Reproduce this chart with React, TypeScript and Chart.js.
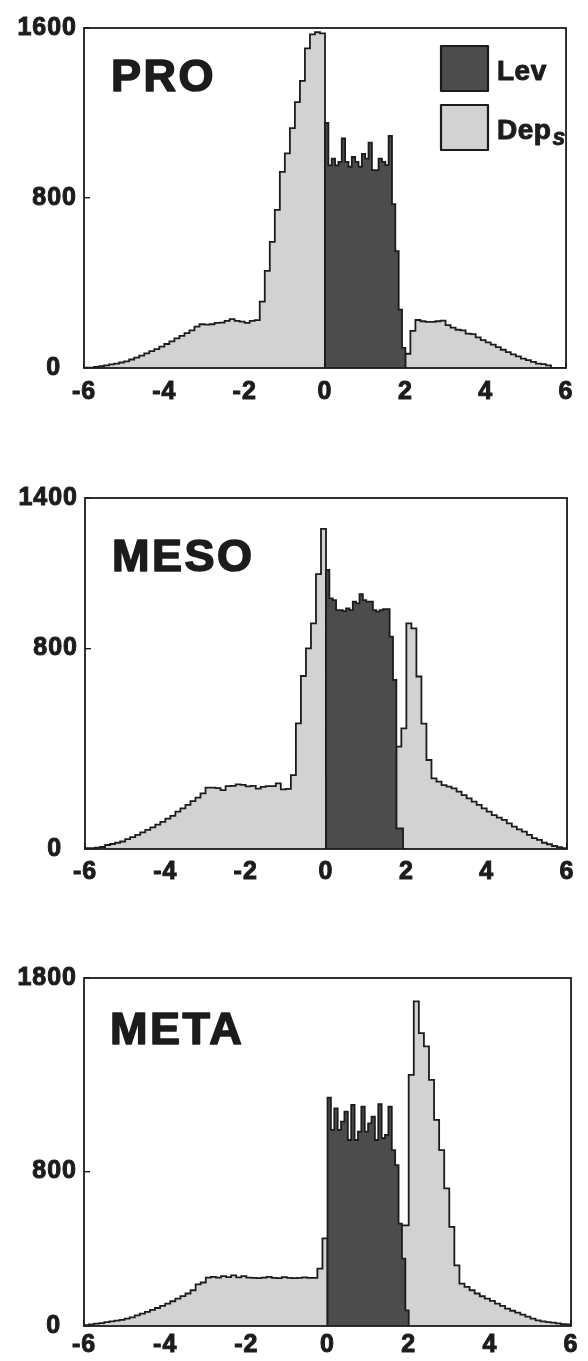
import React, { useEffect, useRef } from 'react';
import { Chart, registerables } from 'chart.js';

Chart.register(...registerables);

// Bin layout of the two histograms
const DEP_START = -6;
const DEP_BIN = 0.125;
const LEV_START = 0;
const LEV_BIN = 1 / 12;

const X_MIN = -6;
const X_MAX = 6;
const xTickValues = [-6, -4, -2, 0, 2, 4, 6];

const seriesLabels = ['Lev', 'Dep_s'];
const panelNames = ['PRO', 'MESO', 'META'];

const proYTicks = [0, 800, 1600];
const mesoYTicks = [0, 800, 1400];
const metaYTicks = [0, 800, 1800];

// Counts per bin
const proLev = [
  1153, 954, 985, 954, 970, 1080, 970, 947, 993, 970, 947, 1008,
  985, 1061, 931, 931, 985, 970, 955, 1092, 771, 550, 275, 95,
];
const proDep = [
  2, 2, 5, 9, 12, 17, 21, 26, 31, 40, 49, 58, 69, 79, 89, 101,
  113, 125, 139, 151, 164, 177, 195, 206, 204, 206, 212, 214, 222, 230, 222, 218,
  212, 222, 225, 312, 457, 594, 744, 923, 1010, 1129, 1251, 1351, 1504, 1570, 1580, 1575,
  0, 0, 0, 0, 0, 0, 0, 0, 0, 0, 0, 0, 0, 0, 0, 0,
  67, 175, 226, 220, 217, 217, 220, 223, 202, 190, 180, 177, 162, 159, 144, 131,
  121, 110, 98, 86, 75, 64, 55, 44, 37, 29, 21, 18, 12, 0, 0, 0,
];

const mesoLev = [
  1113, 1000, 993, 953, 953, 949, 960, 953, 987, 980, 1016, 993,
  987, 987, 953, 947, 953, 957, 957, 847, 674, 82, 82, 0,
];
const mesoDep = [
  3, 3, 5, 8, 16, 20, 25, 30, 39, 47, 56, 66, 76, 86, 97, 108,
  121, 132, 149, 162, 176, 191, 205, 222, 245, 245, 243, 235, 251, 252, 258, 256,
  250, 252, 241, 248, 251, 251, 262, 238, 240, 295, 501, 690, 800, 900, 1096, 1277,
  0, 0, 0, 0, 0, 0, 0, 0, 0, 0, 0, 0, 0, 0, 408, 481,
  900, 880, 688, 500, 355, 282, 269, 255, 249, 242, 229, 215, 202, 189, 176, 162,
  149, 135, 125, 116, 102, 89, 78, 69, 56, 43, 36, 25, 19, 12, 7, 3,
];

const metaLev = [
  1181, 1014, 1126, 1014, 1057, 1109, 962, 1143, 962, 1005, 1135, 1005,
  1048, 1083, 962, 1147, 971, 988, 1135, 910, 832, 530, 349, 81,
];
const metaDep = [
  5, 8, 12, 15, 20, 24, 28, 32, 38, 45, 55, 64, 73, 83, 93, 104,
  116, 128, 142, 155, 168, 185, 215, 225, 250, 254, 250, 258, 253, 262, 252, 258,
  250, 249, 248, 250, 254, 249, 248, 253, 249, 248, 249, 252, 249, 249, 297, 453,
  0, 0, 0, 0, 0, 0, 0, 0, 0, 0, 0, 0, 0, 0, 520, 520,
  1299, 1679, 1515, 1446, 1273, 1066, 910, 712, 513, 314, 219, 202, 185, 168, 154, 142,
  130, 116, 104, 90, 79, 69, 59, 48, 38, 29, 24, 20, 17, 14, 10, 8,
];

const FONT = "'Liberation Sans', Arial, Helvetica, sans-serif";
const INK = '#1c1c1c';
const LEV_FILL = '#4c4c4c';
const DEP_FILL = '#d2d2d2';

type Panel = {
  name: string;
  lev: number[];
  dep: number[];
  yTicks: number[];
  legend: boolean;
  top: number;
  height: number;
  area: { top: number; bottom: number; left: number; right: number };
  xAxisHeight: number;
  xTickPad: number;
  titleDx: number;
  titleDy: number;
};

const panels: Panel[] = [
  {
    name: panelNames[0], lev: proLev, dep: proDep, yTicks: proYTicks, legend: true,
    top: 0, height: 430, area: { top: 19, bottom: 368, left: 84, right: 577 },
    xAxisHeight: 40, xTickPad: 15, titleDx: 27, titleDy: 63,
  },
  {
    name: panelNames[1], lev: mesoLev, dep: mesoDep, yTicks: mesoYTicks, legend: false,
    top: 460, height: 450, area: { top: 498, bottom: 849, left: 85, right: 578 },
    xAxisHeight: 40, xTickPad: 14, titleDx: 27, titleDy: 73,
  },
  {
    name: panelNames[2], lev: metaLev, dep: metaDep, yTicks: metaYTicks, legend: false,
    top: 940, height: 421, area: { top: 978, bottom: 1326, left: 84, right: 577 },
    xAxisHeight: 30, xTickPad: 10, titleDx: 26, titleDy: 66,
  },
];

// Turn bin counts into the vertices of a closed step outline.
function stepPoints(values: number[], start: number, width: number) {
  const pts = [{ x: start, y: 0 }];
  values.forEach((v, i) => pts.push({ x: start + i * width, y: v }));
  pts.push({ x: start + values.length * width, y: 0 });
  return pts;
}

function heavyText(ctx: CanvasRenderingContext2D, text: string, x: number, y: number, stroke: number) {
  ctx.lineWidth = stroke;
  ctx.lineJoin = 'round';
  ctx.strokeStyle = INK;
  ctx.strokeText(text, x, y);
  ctx.fillText(text, x, y);
}

const decorPlugin = {
  id: 'panelDecor',
  beforeDraw(chart: any) {
    (chart.ctx as any).letterSpacing = '1px';
  },
  afterDatasetsDraw(chart: any) {
    const { ctx, chartArea: a } = chart;
    ctx.save();
    ctx.strokeStyle = INK;
    ctx.lineWidth = 1.8;
    ctx.strokeRect(a.left, a.top, a.right - a.left, a.bottom - a.top);
    ctx.restore();
  },
  afterDraw(chart: any, _args: any, opts: any) {
    const { ctx, chartArea: a } = chart;
    ctx.save();
    ctx.fillStyle = INK;
    ctx.textAlign = 'left';
    ctx.textBaseline = 'alphabetic';
    ctx.letterSpacing = '2.5px';
    ctx.font = `bold 45px ${FONT}`;
    heavyText(ctx, opts.title, a.left + opts.titleDx, a.top + opts.titleDy, 1.6);

    if (opts.legend) {
      const bx = a.left + 357;
      const by = a.top + 18;
      const bw = 47;
      const bh = 45;
      const gap = 59;
      chart.data.datasets.forEach((ds: any, i: number) => {
        const y = by + i * gap;
        ctx.fillStyle = ds.backgroundColor;
        ctx.fillRect(bx, y, bw, bh);
        ctx.lineWidth = 2.2;
        ctx.strokeStyle = INK;
        ctx.strokeRect(bx, y, bw, bh);
        const [main, sub] = String(ds.label).split('_');
        ctx.fillStyle = INK;
        ctx.letterSpacing = '0.5px';
        ctx.font = `bold 28px ${FONT}`;
        const tx = bx + bw + 9;
        const ty = y + 34;
        heavyText(ctx, main, tx, ty, 1);
        if (sub) {
          const w = ctx.measureText(main).width;
          ctx.font = `italic bold 23px ${FONT}`;
          heavyText(ctx, sub, tx + w + 1, ty + 6, 0.8);
        }
      });
    }
    ctx.restore();
    ctx.letterSpacing = '0px';
  },
};

function HistogramPanel({ panel }: { panel: Panel }) {
  const ref = useRef<HTMLCanvasElement | null>(null);

  useEffect(() => {
    const canvas = ref.current;
    if (!canvas) return;
    const a = panel.area;
    const localTop = a.top - panel.top;
    const localBottom = a.bottom - panel.top;
    const tickFont = { family: FONT, size: 25, weight: 'bold' as const };

    const chart = new Chart(canvas, {
      type: 'line',
      data: {
        datasets: [
          {
            label: seriesLabels[0],
            data: stepPoints(panel.lev, LEV_START, LEV_BIN),
            stepped: 'before',
            fill: 'origin',
            backgroundColor: LEV_FILL,
            borderColor: INK,
            borderWidth: 1.8,
            pointRadius: 0,
            tension: 0,
          },
          {
            label: seriesLabels[1],
            data: stepPoints(panel.dep, DEP_START, DEP_BIN),
            stepped: 'before',
            fill: 'origin',
            backgroundColor: DEP_FILL,
            borderColor: INK,
            borderWidth: 1.8,
            pointRadius: 0,
            tension: 0,
          },
        ],
      },
      options: {
        responsive: false,
        animation: false,
        events: [],
        layout: {
          padding: {
            top: localTop,
            left: 0,
            right: 588 - a.right,
            bottom: panel.height - localBottom - panel.xAxisHeight,
          },
        },
        scales: {
          x: {
            type: 'linear',
            min: X_MIN,
            max: X_MAX,
            afterBuildTicks: (axis: any) => {
              axis.ticks = xTickValues.map((value) => ({ value }));
            },
            afterFit: (axis: any) => {
              axis.height = panel.xAxisHeight;
            },
            grid: { drawOnChartArea: false, drawTicks: true, tickLength: -6, color: INK, lineWidth: 1.4 },
            border: { display: false },
            ticks: {
              color: INK,
              font: tickFont,
              padding: panel.xTickPad,
              maxRotation: 0,
              autoSkip: false,
              textStrokeColor: INK,
              textStrokeWidth: 1,
              callback: (v: any) => String(v),
            },
          },
          y: {
            type: 'linear',
            min: 0,
            max: panel.yTicks[panel.yTicks.length - 1],
            afterBuildTicks: (axis: any) => {
              axis.ticks = panel.yTicks.map((value) => ({ value }));
            },
            afterFit: (axis: any) => {
              axis.width = a.left;
            },
            grid: { drawOnChartArea: false, drawTicks: true, tickLength: -6, color: INK, lineWidth: 1.4 },
            border: { display: false },
            ticks: {
              color: INK,
              font: tickFont,
              padding: 13,
              autoSkip: false,
              textStrokeColor: INK,
              textStrokeWidth: 1,
              callback: (v: any) => (v === 0 ? '0\u00a0\u00a0' : String(v)),
            },
          },
        },
        plugins: {
          legend: { display: false },
          tooltip: { enabled: false },
          panelDecor: {
            title: panel.name,
            titleDx: panel.titleDx,
            titleDy: panel.titleDy,
            legend: panel.legend,
          },
        } as any,
      },
      plugins: [decorPlugin],
    });

    return () => chart.destroy();
  }, [panel]);

  return (
    <canvas
      ref={ref}
      width={588}
      height={panel.height}
      style={{ position: 'absolute', left: 0, top: panel.top, width: 588, height: panel.height }}
    />
  );
}

export default function App() {
  return (
    <div style={{ position: 'absolute', left: 0, top: 0, width: 588, height: 1361, background: '#ffffff' }}>
      {panels.map((p) => (
        <HistogramPanel key={p.name} panel={p} />
      ))}
    </div>
  );
}
